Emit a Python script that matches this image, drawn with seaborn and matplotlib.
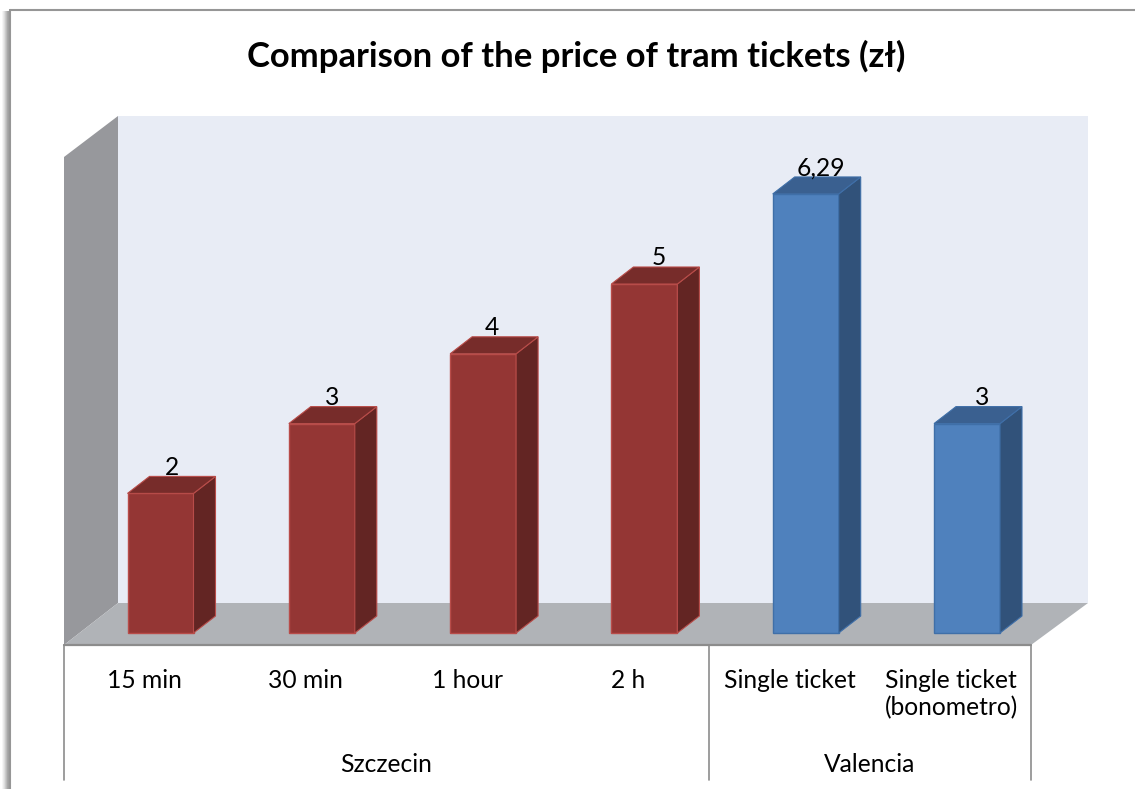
import matplotlib
matplotlib.use("Agg")
import matplotlib.pyplot as plt
from matplotlib.patches import Polygon, Rectangle
from matplotlib.transforms import Affine2D
import pandas as pd
import seaborn as sns

# DATA
tickets = ["15 min", "30 min", "1 hour", "2 h", "Single ticket", "Single ticket\n(bonometro)"]
cities = ["Szczecin", "Szczecin", "Szczecin", "Szczecin", "Valencia", "Valencia"]
prices = [2, 3, 4, 5, 6.29, 3]
city_order = ["Szczecin", "Valencia"]

# COLOURS
front = {"Szczecin": "#943634", "Valencia": "#4F81BD"}
side = {"Szczecin": "#632523", "Valencia": "#31527A"}
top = {"Szczecin": "#772C2A", "Valencia": "#3A6090"}
edge = {"Szczecin": "#B84C49", "Valencia": "#3F6FA8"}

W, H = 1135, 789
STEP = 161.3  # pixels per category
UNIT = 69.8  # pixels per zl
X0, Y0 = 160.5, 633  # pixel of first category / of zero
DX, DY = 22, 17  # depth of the 3d look
LABEL_SIZE = 17.7

sns.set_style("white")
plt.rcParams["font.family"] = ["Lato", "DejaVu Sans"]

fig = plt.figure(figsize=(W / 100, H / 100), dpi=100)
ax = fig.add_axes([0, 0, 1, 1])

df = pd.DataFrame({"ticket": tickets, "city": cities, "price": prices})
sns.barplot(data=df, x="ticket", y="price", hue="city", hue_order=city_order,
            order=tickets, palette=front, dodge=False, width=66 / STEP,
            legend=False, saturation=1, ax=ax, zorder=3)

# Axes fill the figure, limits put the categories and zero on the right pixels.
ax.set_xlim(-X0 / STEP, (W - X0) / STEP)
ax.set_ylim(-(H - Y0) / UNIT, Y0 / UNIT)
ax.axis("off")

# Top-left pixel coordinates for the chart furniture.
px = Affine2D().scale(1, -1).translate(0, H)


def shape(points, color, z=1):
    ax.add_patch(Polygon(points, closed=True, facecolor=color, edgecolor="none",
                         transform=px, zorder=z))


# Walls and floor
shape([(118, 116), (1088, 116), (1088, 603), (118, 603)], "#E8ECF5")
shape([(64, 157), (118, 116), (118, 603), (64, 645)], "#97989C")
shape([(64, 645), (118, 603), (1088, 603), (1031, 645)], "#B0B3B7")

# Axis lines of the two level category axis
ax.plot([64, 1031], [645, 645], color="#8C8C8C", lw=1.6, transform=px, zorder=2)
for x in [64, 709, 1031]:
    ax.plot([x, x], [645, 780], color="#8C8C8C", lw=1.2, transform=px, zorder=2)

# Sides, tops and value labels of the bars
label_shift = [12, 10, 9, 14, 15, 15]
for container, city in zip(ax.containers, city_order):
    for bar in container:
        if bar.get_height() != bar.get_height():
            continue
        bar.set_edgecolor(edge[city])
        bar.set_linewidth(1.0)
        left, right = bar.get_x(), bar.get_x() + bar.get_width()
        value = bar.get_height()
        dx, dy = DX / STEP, DY / UNIT
        ax.add_patch(Polygon([(right, 0), (right + dx, dy), (right + dx, value + dy), (right, value)],
                             facecolor=side[city], edgecolor=edge[city], lw=0.8, zorder=3))
        ax.add_patch(Polygon([(left, value), (left + dx, value + dy), (right + dx, value + dy), (right, value)],
                             facecolor=top[city], edgecolor=edge[city], lw=0.8, zorder=3))
        i = round((left + right) / 2)
        ax.annotate(f"{value:g}".replace(".", ","), ((left + right) / 2, value),
                    xytext=(label_shift[i], 26), textcoords="offset pixels",
                    ha="center", va="center", fontsize=LABEL_SIZE, color="black", zorder=5)

# Category labels
for i, name in enumerate(tickets):
    x = X0 + STEP * i - 16
    for k, line in enumerate(name.split("\n")):
        ax.text(x, 680 + 28 * k, line, transform=px, ha="center", va="center",
                fontsize=LABEL_SIZE, color="black")
ax.text(386, 764, "Szczecin", transform=px, ha="center", va="center", fontsize=LABEL_SIZE, color="black")
ax.text(870, 764, "Valencia", transform=px, ha="center", va="center", fontsize=LABEL_SIZE, color="black")

# Title
ax.text(576.5, 56, "Comparison of the price of tram tickets (zł)", transform=px, ha="center",
        va="center", fontsize=24.9, fontweight="bold", color="black")

# Chart border with soft shadow on the left
for i, alpha in enumerate([0.05, 0.12, 0.2, 0.3, 0.4, 0.5, 0.55]):
    ax.add_patch(Rectangle((2 + i, 11), 1, H - 11, facecolor="#555555", alpha=alpha,
                           edgecolor="none", transform=px, zorder=1))
ax.plot([9.5, 9.5], [9.5, H], color="#969696", lw=1.5, transform=px, zorder=2)
ax.plot([9.5, W], [9.5, 9.5], color="#969696", lw=1.5, transform=px, zorder=2)

fig.savefig("out.png", dpi=100)
